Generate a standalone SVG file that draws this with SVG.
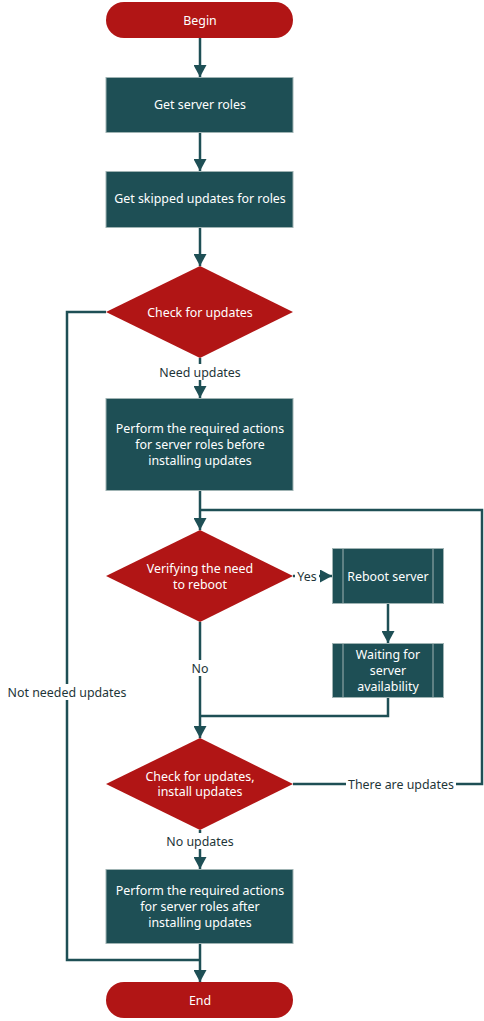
<svg xmlns="http://www.w3.org/2000/svg" width="484" height="1021" viewBox="0 0 484 1021">
<defs>
<marker id="ah" viewBox="0 0 12 13" refX="12" refY="6.5" markerWidth="12" markerHeight="13" markerUnits="userSpaceOnUse" orient="auto">
<path d="M0,0 L12,6.5 L0,13 z" fill="#1e4f55"/>
</marker>
<style>
.term{fill:#b11515;}
.proc{fill:#1e4f55;stroke:#9fb3b3;stroke-width:1;}
.dec{fill:#b11515;}
.t{font-family:"Noto Sans","Open Sans",sans-serif;font-size:12.4px;fill:#ffffff;text-anchor:middle;dominant-baseline:central;}
.lbl{font-family:"Noto Sans","Open Sans",sans-serif;font-size:12.4px;fill:#1e3538;text-anchor:middle;dominant-baseline:central;}
.c{fill:none;stroke:#1e4f55;stroke-width:2.5;}
.bg{fill:#ffffff;}
.sub{stroke:#9fb3b3;stroke-width:1;}
</style>
</defs>
<rect width="484" height="1021" fill="#ffffff"/>
<g id="connectors">
<path class="c" d="M200,38 V77" marker-end="url(#ah)"/>
<path class="c" d="M200,132 V171" marker-end="url(#ah)"/>
<path class="c" d="M200,228 V266" marker-end="url(#ah)"/>
<path class="c" d="M200,358 V398" marker-end="url(#ah)"/>
<path class="c" d="M200,491 V530" marker-end="url(#ah)"/>
<path class="c" d="M293,576 H332" marker-end="url(#ah)"/>
<path class="c" d="M388,604 V643" marker-end="url(#ah)"/>
<path class="c" d="M388,697 V716 H200"/>
<path class="c" d="M200,622 V738" marker-end="url(#ah)"/>
<path class="c" d="M293,784 H482 V510 H200"/>
<path class="c" d="M200,830 V869" marker-end="url(#ah)"/>
<path class="c" d="M200,943 V982" marker-end="url(#ah)"/>
<path class="c" d="M106,312 H67 V960 H200"/>
<rect class="bg" x="156" y="364" width="88" height="16"/>
<text class="lbl" x="200" y="372">Need updates</text>
<rect class="bg" x="295" y="569" width="24" height="15"/>
<text class="lbl" x="307" y="576">Yes</text>
<rect class="bg" x="189" y="660" width="22" height="16"/>
<text class="lbl" x="200" y="668">No</text>
<rect class="bg" x="346" y="776" width="110" height="16"/>
<text class="lbl" x="401" y="784">There are updates</text>
<rect class="bg" x="162" y="833" width="76" height="16"/>
<text class="lbl" x="200" y="841">No updates</text>
<rect class="bg" x="5" y="684" width="124" height="16"/>
<text class="lbl" x="67" y="692">Not needed updates</text>
</g>
<g id="begin">
<rect class="term" x="106" y="2" width="187" height="36" rx="18"/>
<text class="t" x="200" y="20">Begin</text>
</g>
<g id="get-roles">
<rect class="proc" x="106" y="77.5" width="187" height="55"/>
<text class="t" x="200" y="104">Get server roles</text>
</g>
<g id="get-skipped">
<rect class="proc" x="106" y="171.5" width="187" height="56"/>
<text class="t" x="200" y="198">Get skipped updates for roles</text>
</g>
<g id="check-updates">
<polygon class="dec" points="200,266 293,312 200,358 106,312"/>
<text class="t" x="200" y="312">Check for updates</text>
</g>
<g id="before">
<rect class="proc" x="106" y="398.5" width="187" height="92"/>
<text class="t" x="200" y="428">Perform the required actions</text>
<text class="t" x="200" y="444">for server roles before</text>
<text class="t" x="200" y="460">installing updates</text>
</g>
<g id="verify-reboot">
<polygon class="dec" points="200,530 293,576 200,622 106,576"/>
<text class="t" x="200" y="568">Verifying the need</text>
<text class="t" x="200" y="584">to reboot</text>
</g>
<g id="reboot">
<rect class="proc" x="332.5" y="548.5" width="111" height="55"/>
<line class="sub" x1="343" y1="548.5" x2="343" y2="603.5"/>
<line class="sub" x1="433" y1="548.5" x2="433" y2="603.5"/>
<text class="t" x="388" y="576">Reboot server</text>
</g>
<g id="waiting">
<rect class="proc" x="332.5" y="643.5" width="111" height="54"/>
<line class="sub" x1="343" y1="643.5" x2="343" y2="697.5"/>
<line class="sub" x1="433" y1="643.5" x2="433" y2="697.5"/>
<text class="t" x="388" y="654">Waiting for</text>
<text class="t" x="388" y="670">server</text>
<text class="t" x="388" y="686">availability</text>
</g>
<g id="install">
<polygon class="dec" points="200,738 293,784 200,830 106,784"/>
<text class="t" x="200" y="776">Check for updates,</text>
<text class="t" x="200" y="791">install updates</text>
</g>
<g id="after">
<rect class="proc" x="106" y="869.5" width="187" height="74"/>
<text class="t" x="200" y="890">Perform the required actions</text>
<text class="t" x="200" y="906">for server roles after</text>
<text class="t" x="200" y="922">installing updates</text>
</g>
<g id="end">
<rect class="term" x="106" y="982" width="187" height="36" rx="18"/>
<text class="t" x="200" y="1000">End</text>
</g>
</svg>
